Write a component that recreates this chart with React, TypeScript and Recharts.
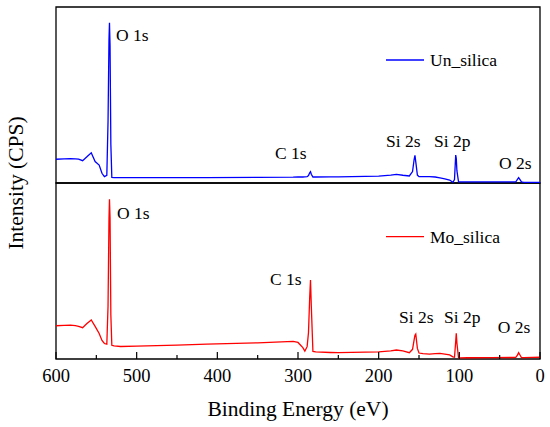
import { LineChart, Line, XAxis, YAxis, ReferenceArea, ReferenceDot, Legend } from "recharts";

const FONT = "Liberation Serif, Times New Roman, DejaVu Serif, serif";
const textStyle = { fontFamily: FONT };

// binding energy grid (eV), high to low
const bindingEnergy = [
  600, 590, 582, 576, 572, 567, 562, 556.3, 551.5, 546.5, 543, 540, 537, 535.5, 534.3, 533.7, 533, 532,
  530.8, 528, 520, 500, 450, 413, 350, 306, 300, 294, 291.5, 288.7, 287, 285.5, 284.5, 283.5, 281.5, 278,
  260, 250, 200, 185, 178, 170, 162, 158, 156, 155, 154, 152, 150, 145, 137, 130, 124, 118, 112, 108, 106,
  104.5, 103.8, 103, 101, 99, 90, 60, 35, 30, 28, 26.5, 25, 23, 20, 10, 0,
];

// intensities (arb. units, 0-100 within each panel)
const unSilica = [
  13.5, 13.7, 13.8, 13.7, 13.6, 12.7, 14.8, 17.2, 12.2, 10.2, 5.5, 3.6, 4.3, 35, 82, 91, 78, 22,
  3.2, 3.0, 3.0, 3.0, 3.1, 3.1, 3.2, 3.3, 3.4, 3.4, 3.5, 3.6, 4.2, 5.8, 6.4, 5.0, 3.4, 3.4,
  3.5, 3.5, 3.9, 4.5, 4.9, 4.4, 4.0, 6.5, 13.5, 15.7, 12, 4.5, 3.6, 3.6, 3.6, 3.4, 2.9, 2.4, 1.7, 0.4, 2.0,
  15.9, 14, 7, 0.6, 0.6, 0.6, 0.6, 0.6, 0.7, 2.0, 3.0, 2.0, 0.6, 0.4, 0.4, 0.4,
];

const moSilica = [
  18.9, 19.1, 19.3, 19.0, 18.6, 17.8, 20.0, 22.2, 18.5, 14.5, 10.5, 8.8, 8.4, 30, 80, 90.7, 80, 25,
  7.8, 7.5, 7.1, 7.3, 7.9, 8.4, 9.2, 10.0, 9.4, 6.5, 4.5, 7.0, 15, 35, 44.9, 30, 4.3, 4.0,
  3.7, 3.6, 4.0, 4.6, 5.1, 4.6, 3.6, 5.5, 11, 13.5, 14.2, 6, 3.4, 3.0, 2.8, 3.0, 3.2, 2.8, 2.3, 1.2, 1.0,
  10, 14.6, 9, 0.5, 0.6, 0.7, 0.8, 0.85, 0.9, 2.2, 3.6, 2.4, 0.8, 0.8, 0.9, 1.0,
];

const energyTicks = [600, 550, 500, 450, 400, 350, 300, 250, 200, 150, 100, 50, 0];

const peakNames = ["O 1s", "C 1s", "Si 2s", "Si 2p", "O 2s"];

// where each peak name sits (eV, intensity) in each panel
const unLabelSpots = [
  { ev: 525.6, v: 84.1 },
  { ev: 328.5, v: 17.3 },
  { ev: 190.9, v: 23.8 },
  { ev: 131.4, v: 23.8 },
  { ev: 50.8, v: 11.6 },
];
const moLabelSpots = [
  { ev: 524.4, v: 83.2 },
  { ev: 334.7, v: 45.6 },
  { ev: 174.8, v: 23.8 },
  { ev: 119.0, v: 24.1 },
  { ev: 52.5, v: 18.1 },
];

const data = bindingEnergy.map((ev, i) => ({ ev, un: unSilica[i], mo: moSilica[i] }));

function EnergyTick(props: any) {
  const { x, y, payload } = props;
  const major = payload.value % 100 === 0;
  return (
    <g>
      <line x1={x} x2={x} y1={y} y2={y - (major ? 7 : 4)} stroke="#000" strokeWidth={1.2} />
      {major && (
        <text x={x} y={y + 23} textAnchor="middle" style={textStyle} fontSize={18.5} fill="#000">
          {payload.value}
        </text>
      )}
    </g>
  );
}

function PeakName({ cx, cy, text }: any) {
  return (
    <text x={cx} y={cy} dy="0.35em" style={textStyle} fontSize={17.5} fill="#000">
      {text}
    </text>
  );
}

function XTitle({ viewBox }: any) {
  return (
    <text x={viewBox.x + viewBox.width / 2} y={viewBox.y + 57} textAnchor="middle" style={textStyle} fontSize={21.5} fill="#000">
      Binding Energy (eV)
    </text>
  );
}

function YTitle({ viewBox }: any) {
  const x = 15;
  const y = viewBox.y + viewBox.height / 2;
  return (
    <text x={x} y={y} dy="0.35em" transform={`rotate(-90 ${x} ${y})`} textAnchor="middle" style={textStyle} fontSize={21.5} fill="#000">
      Intensity (CPS)
    </text>
  );
}

// legend row per series (upper panel first)
const legendRows: Record<string, number> = { Un_silica: 60, Mo_silica: 236.7 };

function PanelLegend({ payload }: any) {
  return (
    <svg width={550} height={427} style={{ position: "absolute", left: 0, top: 0, overflow: "visible" }}>
      {(payload || []).map((p: any) => (
        <g key={p.value}>
          <line x1={386} x2={424} y1={legendRows[p.value]} y2={legendRows[p.value]} stroke={p.color} strokeWidth={1.3} />
          <text x={430} y={legendRows[p.value]} dy="0.35em" style={textStyle} fontSize={17.5} fill="#000">
            {p.value}
          </text>
        </g>
      ))}
    </svg>
  );
}

export default function App() {
  return (
    <div style={{ position: "absolute", left: 0, top: 0, width: 550, height: 427, background: "#fff" }}>
      <LineChart width={550} height={427} data={data} margin={{ top: 7, right: 10, bottom: 0, left: 0 }}>
        <XAxis
          dataKey="ev"
          type="number"
          domain={[0, 600]}
          reversed
          ticks={energyTicks}
          interval={0}
          tick={<EnergyTick />}
          tickLine={false}
          axisLine={false}
          tickSize={0}
          tickMargin={0}
          height={68}
          label={<XTitle />}
        />
        <YAxis
          yAxisId="top"
          type="number"
          domain={[-100, 100]}
          width={56}
          tick={false}
          tickLine={false}
          axisLine={false}
          label={<YTitle />}
        />
        <YAxis yAxisId="bottom" type="number" domain={[0, 200]} hide />
        <ReferenceArea yAxisId="top" x1={0} x2={600} y1={0} y2={100} fill="none" stroke="#000" strokeWidth={1.3} />
        <ReferenceArea yAxisId="bottom" x1={0} x2={600} y1={0} y2={100} fill="none" stroke="#000" strokeWidth={1.3} />
        <Line
          yAxisId="top"
          type="linear"
          dataKey="un"
          name="Un_silica"
          stroke="#0000ff"
          strokeWidth={1.3}
          dot={false}
          activeDot={false}
          isAnimationActive={false}
        />
        <Line
          yAxisId="bottom"
          type="linear"
          dataKey="mo"
          name="Mo_silica"
          stroke="#ff0000"
          strokeWidth={1.3}
          dot={false}
          activeDot={false}
          isAnimationActive={false}
        />
        {unLabelSpots.map((s, i) => (
          <ReferenceDot
            key={"un" + i}
            yAxisId="top"
            x={s.ev}
            y={s.v}
            r={0}
            shape={(p: any) => <PeakName {...p} text={peakNames[i]} />}
          />
        ))}
        {moLabelSpots.map((s, i) => (
          <ReferenceDot
            key={"mo" + i}
            yAxisId="bottom"
            x={s.ev}
            y={s.v}
            r={0}
            shape={(p: any) => <PeakName {...p} text={peakNames[i]} />}
          />
        ))}
        <Legend
          content={<PanelLegend />}
          wrapperStyle={{ left: 0, top: 0, width: 0, height: 0, bottom: "auto", overflow: "visible" }}
        />
      </LineChart>
    </div>
  );
}
